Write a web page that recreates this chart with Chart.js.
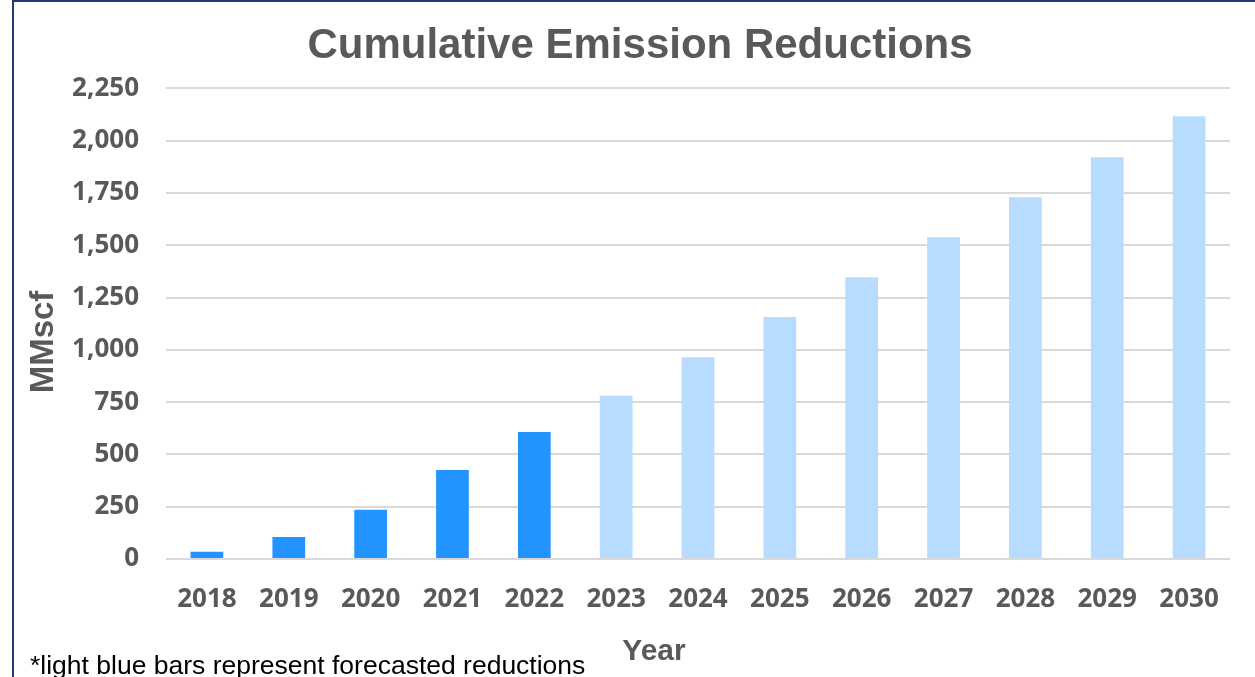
<!DOCTYPE html>
<html>
<head>
<meta charset="utf-8">
<script src="https://cdn.jsdelivr.net/npm/chart.js@4.4.1/dist/chart.umd.min.js"></script>
<style>
  html, body { margin: 0; padding: 0; background: #fff; }
  #wrap { position: relative; width: 1255px; height: 677px; overflow: hidden; }
  #frame { position: absolute; left: 12px; top: 0; right: -10px; bottom: -10px; border-left: 2px solid #1f3a7a; border-top: 2px solid #1f3a7a; }
  canvas { position: absolute; left: 0; top: 0; }
</style>
</head>
<body>
<div id="wrap">
  <div id="frame"></div>
  <canvas id="emissionsChart" width="1255" height="677"></canvas>
</div>
<script>
const years = ["2018", "2019", "2020", "2021", "2022", "2023", "2024", "2025", "2026", "2027", "2028", "2029", "2030"];
const reductions = [35, 105, 235, 425, 607, 780, 965, 1157, 1347, 1538, 1730, 1921, 2117];
const firstForecastYear = 2023;
const yMax = 2250;
const yStep = 250;

const TEXT = "#595959";
const ACTUAL = "#2394ff";
const FORECAST = "#b7dcff";

const barColors = years.map((y) => (Number(y) >= firstForecastYear ? FORECAST : ACTUAL));

// axis titles + footnote sit where the original put them, not where chart.js would
const extraText = {
  id: "extraText",
  afterDraw(chart) {
    const { ctx } = chart;
    ctx.save();
    ctx.fillStyle = TEXT;
    ctx.font = "bold 30px 'Liberation Sans', Arial, sans-serif";
    ctx.textAlign = "center";
    ctx.textBaseline = "alphabetic";
    ctx.fillText("Year", 654, 660);

    ctx.translate(53, 342);
    ctx.rotate(-Math.PI / 2);
    ctx.font = "bold 33px 'Liberation Sans', Arial, sans-serif";
    ctx.fillText("MMscf", 0, 0);
    ctx.restore();

    ctx.save();
    ctx.fillStyle = "#000";
    ctx.font = "26.5px 'Liberation Sans', Arial, sans-serif";
    ctx.textAlign = "left";
    ctx.textBaseline = "alphabetic";
    ctx.fillText("*light blue bars represent forecasted reductions", 30, 674);
    ctx.restore();
  },
};

new Chart(document.getElementById("emissionsChart"), {
  type: "bar",
  data: {
    labels: years,
    datasets: [
      {
        label: "Cumulative Emission Reductions",
        data: reductions,
        backgroundColor: barColors,
        barPercentage: 0.4,
        categoryPercentage: 1.0,
      },
    ],
  },
  options: {
    responsive: false,
    animation: false,
    devicePixelRatio: 1,
    layout: { padding: { left: 50, right: 25, top: 0, bottom: 0 } },
    plugins: {
      legend: { display: false },
      tooltip: { enabled: false },
      title: {
        display: true,
        text: "Cumulative Emission Reductions",
        color: TEXT,
        font: { family: "'Liberation Sans', Arial, sans-serif", size: 42, weight: "bold", lineHeight: 1.2 },
        padding: { top: 21, bottom: 17 },
      },
    },
    scales: {
      x: {
        grid: { display: false },
        border: { display: false },
        ticks: {
          color: TEXT,
          padding: 17,
          font: { family: "'Open Sans', sans-serif", size: 26, weight: "bold" },
          maxRotation: 0,
        },
        afterFit: (scale) => { scale.height = 118; },
      },
      y: {
        min: 0,
        max: yMax,
        border: { display: false },
        grid: { color: "#d9d9d9", lineWidth: 2, drawTicks: false },
        ticks: {
          stepSize: yStep,
          color: TEXT,
          padding: 27,
          font: { family: "'Open Sans', sans-serif", size: 26, weight: "bold" },
          callback: (v) => Number(v).toLocaleString("en-US"),
        },
        afterFit: (scale) => { scale.width = 116; },
      },
    },
  },
  plugins: [extraText],
});
</script>
</body>
</html>
